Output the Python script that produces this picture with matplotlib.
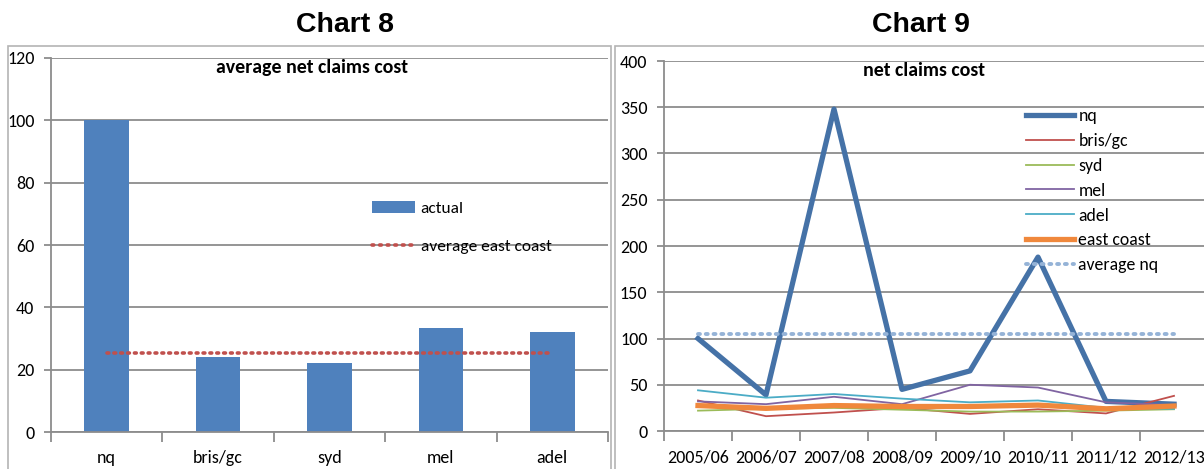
import matplotlib
matplotlib.use("Agg")
import matplotlib.pyplot as plt
import matplotlib.font_manager as fm
from matplotlib.patches import Rectangle, Patch
from matplotlib.lines import Line2D

# ---------------- data ----------------
bar_categories = ["nq", "bris/gc", "syd", "mel", "adel"]
bar_actual = [100, 24, 22, 33.3, 32]
east_coast_avg = 25.5

years = ["2005/06", "2006/07", "2007/08", "2008/09", "2009/10", "2010/11", "2011/12", "2012/13"]
nq = [100, 39, 348, 45, 65, 188, 32, 29]
bris_gc = [33, 16, 20, 25, 18.5, 23.5, 19, 38]
syd = [22, 24, 25, 23, 21, 21, 22, 23.5]
mel = [32, 29, 37, 29, 50, 47, 31, 28]
adel = [44, 36, 40, 35, 31, 33, 25, 24]
east_coast = [27.5, 24.5, 27.5, 26.5, 26.5, 28, 24, 27]
average_nq = 105

# ---------------- fonts ----------------
names = {f.name for f in fm.fontManager.ttflist}
NARROW = "DejaVu Sans"
for cand in ["Carlito", "Liberation Sans Narrow", "PT Sans Narrow", "Archivo Narrow",
             "Roboto Condensed", "Asap Condensed"]:
    if cand in names:
        NARROW = cand
        break
ARIAL = "Liberation Sans" if "Liberation Sans" in names else "DejaVu Sans"

W, H = 1204, 469
fig = plt.figure(figsize=(W / 100, H / 100), dpi=100)

def px_axes(x0, x1, ytop, ybot):
    return fig.add_axes([x0 / W, (H - ybot) / H, (x1 - x0) / W, (ybot - ytop) / H])

GRID = "#8c8c8c"
FRAME = "#b4b4b4"
TICKFS = 13.0

# frames
fig.patches.append(Rectangle((8 / W, -0.1), (611 - 8) / W, (H - 46) / H + 0.1,
                             transform=fig.transFigure, fill=False, edgecolor=FRAME, lw=1.2))
fig.patches.append(Rectangle((615 / W, -0.1), (1300 - 615) / W, (H - 46) / H + 0.1,
                             transform=fig.transFigure, fill=False, edgecolor=FRAME, lw=1.2))

fig.text(345 / W, 1 - 25 / H, "Chart 8", ha="center", va="center",
         fontsize=20.5, fontweight="bold", family=ARIAL)
fig.text(921 / W, 1 - 25 / H, "Chart 9", ha="center", va="center",
         fontsize=20.5, fontweight="bold", family=ARIAL)

def style(ax, ymax, step):
    ax.set_ylim(0, ymax)
    ax.set_yticks(range(0, ymax + 1, step))
    ax.grid(axis="y", color=GRID, lw=1.3)
    ax.set_axisbelow(True)
    for s in ["top", "right"]:
        ax.spines[s].set_visible(False)
    for s in ["left", "bottom"]:
        ax.spines[s].set_color(GRID)
        ax.spines[s].set_linewidth(1.3)
    ax.tick_params(axis="y", length=5, color=GRID, width=1.3, labelsize=TICKFS, pad=7)
    ax.tick_params(axis="x", which="minor", length=7, color=GRID, width=1.3)
    ax.tick_params(axis="x", which="major", length=0, labelsize=TICKFS, pad=13)
    for lab in ax.get_xticklabels() + ax.get_yticklabels():
        lab.set_family(NARROW)
    ax.patch.set_alpha(0)

# ---------------- Chart 8 ----------------
ax1 = px_axes(51, 608, 58, 432)
x1 = list(range(len(bar_categories)))
ax1.bar(x1, bar_actual, width=0.4, color="#4F81BD", label="actual", zorder=2)
ax1.plot([x1[0], x1[-1]], [east_coast_avg, east_coast_avg], color="#C0504D",
         lw=2.6, linestyle=(0, (0.5, 1.4)), dash_capstyle="round", zorder=3,
         label="average east coast")
ax1.set_xlim(-0.5, len(bar_categories) - 0.5)
ax1.set_xticks(x1)
ax1.set_xticklabels(bar_categories)
ax1.set_xticks([i - 0.5 for i in range(len(bar_categories) + 1)], minor=True)
style(ax1, 120, 20)
fig.text(312 / W, 1 - 68 / H, "average net claims cost", ha="center", va="center",
         fontsize=14.3, fontweight="bold", family=NARROW)
h1 = [Patch(facecolor="#4F81BD"),
      Line2D([], [], color="#C0504D", lw=2.6, linestyle=(0, (0.5, 1.6)), dash_capstyle="round")]
leg1 = ax1.legend(h1, ["actual", "average east coast"], loc="upper left",
                  bbox_to_anchor=(372 / W, 1 - 201 / H), bbox_transform=fig.transFigure,
                  frameon=False, borderpad=0, borderaxespad=0, handlelength=2.5,
                  handleheight=0.7, handletextpad=0.3, labelspacing=1.3,
                  prop={"family": NARROW, "size": 12.5})

# ---------------- Chart 9 ----------------
ax2 = px_axes(664, 1208, 61, 431)
x2 = list(range(len(years)))
ax2.plot(x2, nq, color="#4572A7", lw=3.8, label="nq", zorder=3)
ax2.plot(x2, bris_gc, color="#C0504D", lw=1.3, label="bris/gc", zorder=4)
ax2.plot(x2, syd, color="#9BBB59", lw=1.3, label="syd", zorder=4)
ax2.plot(x2, mel, color="#8064A2", lw=1.3, label="mel", zorder=4)
ax2.plot(x2, adel, color="#4BACC6", lw=1.3, label="adel", zorder=4)
ax2.plot(x2, east_coast, color="#F0883C", lw=3.8, label="east coast", zorder=5)
ax2.plot([x2[0], x2[-1]], [average_nq, average_nq], color="#95B3D7", lw=2.8,
         linestyle=(0, (0.5, 1.5)), dash_capstyle="round", label="average nq", zorder=6)
ax2.set_xlim(-0.5, len(years) - 0.5)
ax2.set_xticks(x2)
ax2.set_xticklabels(years)
ax2.set_xticks([i - 0.5 for i in range(len(years) + 1)], minor=True)
style(ax2, 400, 50)
fig.text(924 / W, 1 - 71 / H, "net claims cost", ha="center", va="center",
         fontsize=14.3, fontweight="bold", family=NARROW)
leg2 = ax2.legend(loc="upper left", bbox_to_anchor=(1026 / W, 1 - 108 / H),
                  bbox_transform=fig.transFigure, frameon=False, borderpad=0,
                  borderaxespad=0, handlelength=2.7, handletextpad=0.25,
                  labelspacing=0.5, prop={"family": NARROW, "size": 12.8})

fig.savefig("out.png", dpi=100)
